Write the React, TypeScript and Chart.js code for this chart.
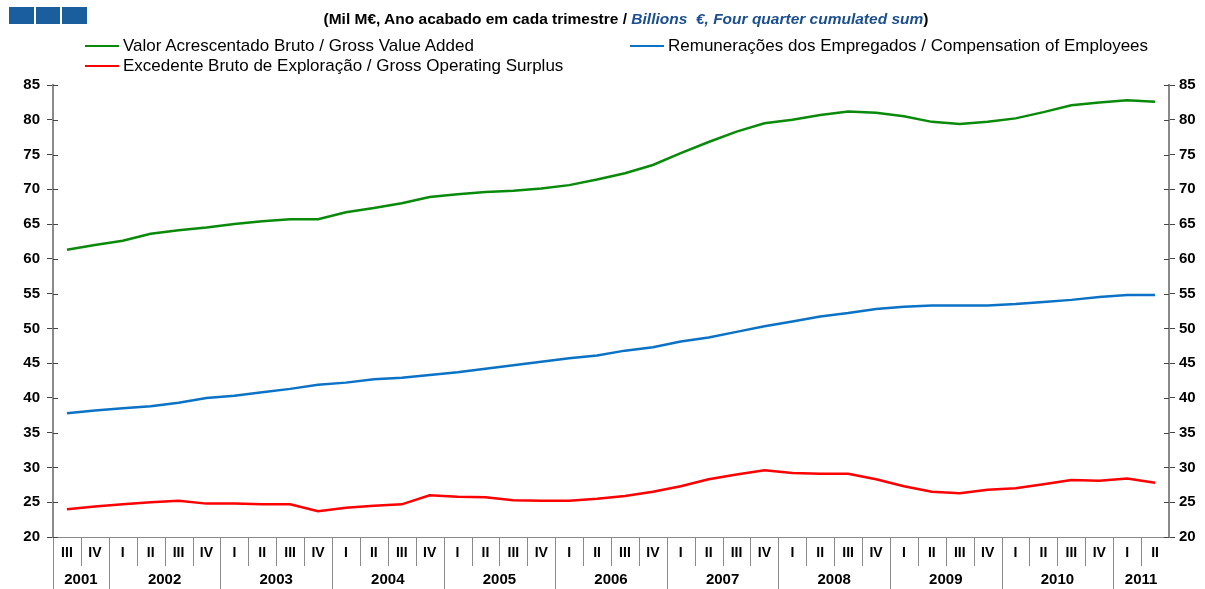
import React, { useEffect, useRef } from 'react';
import { Chart, registerables } from 'chart.js';

Chart.register(...registerables);

const quarterLabels = [
  'III', 'IV',
  'I', 'II', 'III', 'IV',
  'I', 'II', 'III', 'IV',
  'I', 'II', 'III', 'IV',
  'I', 'II', 'III', 'IV',
  'I', 'II', 'III', 'IV',
  'I', 'II', 'III', 'IV',
  'I', 'II', 'III', 'IV',
  'I', 'II', 'III', 'IV',
  'I', 'II', 'III', 'IV',
  'I', 'II',
];
const years = ['2001', '2002', '2003', '2004', '2005', '2006', '2007', '2008', '2009', '2010', '2011'];
const quartersInYear = [2, 4, 4, 4, 4, 4, 4, 4, 4, 4, 2];

const gva = [
  61.3, 62.0,
  62.6, 63.6, 64.1, 64.5,
  65.0, 65.4, 65.7, 65.7,
  66.7, 67.3, 68.0, 68.9,
  69.3, 69.6, 69.8, 70.1,
  70.6, 71.4, 72.3, 73.5,
  75.2, 76.8, 78.3, 79.5,
  80.0, 80.7, 81.2, 81.0,
  80.5, 79.7, 79.4, 79.7,
  80.2, 81.1, 82.1, 82.5,
  82.8, 82.6,
];
const coe = [
  37.8, 38.2,
  38.5, 38.8, 39.3, 40.0,
  40.3, 40.8, 41.3, 41.9,
  42.2, 42.7, 42.9, 43.3,
  43.7, 44.2, 44.7, 45.2,
  45.7, 46.1, 46.8, 47.3,
  48.1, 48.7, 49.5, 50.3,
  51.0, 51.7, 52.2, 52.8,
  53.1, 53.3, 53.3, 53.3,
  53.5, 53.8, 54.1, 54.5,
  54.8, 54.8,
];
const gos = [
  24.0, 24.4,
  24.7, 25.0, 25.2, 24.8,
  24.8, 24.7, 24.7, 23.7,
  24.2, 24.5, 24.7, 26.0,
  25.8, 25.7, 25.3, 25.2,
  25.2, 25.5, 25.9, 26.5,
  27.3, 28.3, 29.0, 29.6,
  29.2, 29.1, 29.1, 28.3,
  27.3, 26.5, 26.3, 26.8,
  27.0, 27.6, 28.2, 28.1,
  28.4, 27.8,
];

const seriesNames = [
  'Valor Acrescentado Bruto / Gross Value Added',
  'Remunerações dos Empregados / Compensation of Employees',
  'Excedente Bruto de Exploração / Gross Operating Surplus',
];
const GREEN = '#0a8a0a';
const BLUE = '#0b72c6';
const RED = '#ff0000';

const FONT = '"Liberation Sans", Arial, sans-serif';
const W = 1205;
const H = 589;

const decorPlugin = {
  id: 'decor',
  afterDraw(chart: any) {
    const { ctx, chartArea: ca, scales } = chart;
    const x = scales.x;
    const half = (x.getPixelForValue(1) - x.getPixelForValue(0)) / 2;
    const yearStarts = new Set<number>();
    let idx = 0;
    quartersInYear.forEach((n) => {
      yearStarts.add(idx);
      idx += n;
    });
    ctx.save();
    ctx.strokeStyle = '#8a8a8a';
    ctx.lineWidth = 1;
    for (let i = 0; i < quarterLabels.length; i++) {
      const px = Math.round(x.getPixelForValue(i) - half) + 0.5;
      const bottom = yearStarts.has(i) ? H : 566;
      ctx.beginPath();
      ctx.moveTo(px, ca.bottom);
      ctx.lineTo(px, bottom);
      ctx.stroke();
    }
    ctx.fillStyle = '#000';
    ctx.font = 'bold 15px ' + FONT;
    ctx.textAlign = 'center';
    ctx.textBaseline = 'middle';
    idx = 0;
    years.forEach((yr, k) => {
      const n = quartersInYear[k];
      const c = (x.getPixelForValue(idx) + x.getPixelForValue(idx + n - 1)) / 2;
      ctx.fillText(yr, c, 580);
      idx += n;
    });
    ctx.strokeStyle = '#444';
    const ys = scales.y;
    for (let v = 20; v <= 85; v += 5) {
      const py = Math.round(ys.getPixelForValue(v)) + 0.5;
      ctx.beginPath();
      ctx.moveTo(ca.left, py);
      ctx.lineTo(ca.left + 5, py);
      ctx.moveTo(ca.right - 5, py);
      ctx.lineTo(ca.right, py);
      ctx.stroke();
    }
    ctx.restore();
  },
};

export default function App() {
  const ref = useRef<HTMLCanvasElement | null>(null);
  useEffect(() => {
    if (!ref.current) return;
    const yCommon = {
      min: 20,
      max: 85,
      ticks: {
        stepSize: 5,
        color: '#000',
        font: { family: FONT, size: 15, weight: 'bold' as const },
      },
      grid: { drawOnChartArea: false, tickLength: 6, color: '#444', lineWidth: 1 },
      border: { color: '#8a8a8a', width: 2 },
    };
    const chart = new Chart(ref.current, {
      type: 'line',
      data: {
        labels: quarterLabels,
        datasets: [
          { label: seriesNames[0], data: gva, borderColor: GREEN, backgroundColor: GREEN, borderWidth: 2.5, pointRadius: 0, tension: 0, yAxisID: 'y' },
          { label: seriesNames[1], data: coe, borderColor: BLUE, backgroundColor: BLUE, borderWidth: 2.5, pointRadius: 0, tension: 0, yAxisID: 'y' },
          { label: seriesNames[2], data: gos, borderColor: RED, backgroundColor: RED, borderWidth: 2.5, pointRadius: 0, tension: 0, yAxisID: 'y' },
        ],
      },
      options: {
        animation: false,
        responsive: false,
        layout: { padding: { top: 85, left: 0, right: 0, bottom: 0 } },
        plugins: { legend: { display: false }, tooltip: { enabled: false } },
        scales: {
          x: {
            type: 'category',
            offset: true,
            grid: { display: false, drawTicks: false },
            border: { color: '#8a8a8a', width: 1 },
            ticks: {
              autoSkip: false,
              maxRotation: 0,
              minRotation: 0,
              padding: 8,
              color: '#000',
              font: { family: FONT, size: 14, weight: 'bold' as const },
            },
            afterFit: (s: any) => {
              s.height = 52;
            },
          },
          y: {
            ...yCommon,
            position: 'left',
            ticks: { ...yCommon.ticks, padding: 7 },
            afterFit: (s: any) => {
              s.width = 53;
            },
          },
          y2: {
            ...yCommon,
            position: 'right',
            ticks: { ...yCommon.ticks, padding: 4 },
            afterFit: (s: any) => {
              s.width = 36;
            },
          },
        },
      },
      plugins: [decorPlugin],
    });
    return () => chart.destroy();
  }, []);

  const legendItem = (color: string, text: string, left: number, top: number) => (
    <div style={{ position: 'absolute', left, top, height: 20, display: 'flex', alignItems: 'center', whiteSpace: 'nowrap' }}>
      <div style={{ width: 34, height: 2.5, background: color, marginRight: 4 }} />
      <span style={{ fontFamily: FONT, fontSize: 17, color: '#000' }}>{text}</span>
    </div>
  );

  return (
    <div style={{ position: 'absolute', left: 0, top: 0, width: W, height: H, background: '#fff', overflow: 'hidden' }}>
      <canvas ref={ref} width={W} height={H} style={{ position: 'absolute', left: 0, top: 0, width: W, height: H }} />
      <div style={{ position: 'absolute', left: 9, top: 7, display: 'flex', gap: 2 }}>
        <div style={{ width: 24.5, height: 17, background: '#1b5e9e' }} />
        <div style={{ width: 24.5, height: 17, background: '#1b5e9e' }} />
        <div style={{ width: 24.5, height: 17, background: '#1b5e9e' }} />
      </div>
      <div
        style={{
          position: 'absolute',
          left: 0,
          width: 1252,
          top: 10,
          textAlign: 'center',
          fontFamily: FONT,
          fontSize: 15.5,
          fontWeight: 'bold',
          color: '#000',
          whiteSpace: 'nowrap',
          lineHeight: '18px',
        }}
      >
        (Mil M€, Ano acabado em cada trimestre /{' '}
        <span style={{ fontStyle: 'italic', color: '#1b4f8f' }}>Billions&nbsp; €, Four quarter cumulated sum</span>)
      </div>
      {legendItem(GREEN, seriesNames[0], 85, 36)}
      {legendItem(BLUE, seriesNames[1], 630, 36)}
      {legendItem(RED, seriesNames[2], 85, 56)}
    </div>
  );
}
